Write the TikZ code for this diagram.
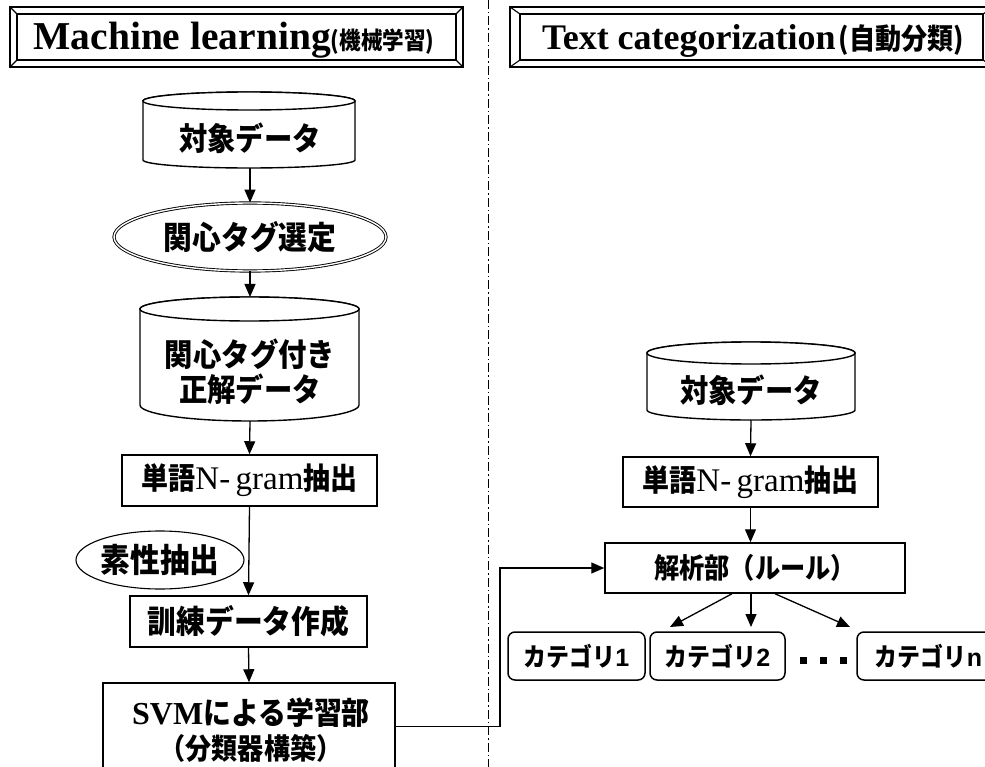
\documentclass[tikz,border=0pt]{standalone}
\usepackage{fontspec}
\setmainfont{Liberation Serif}
\newfontfamily\jp{Noto Sans CJK JP}[FakeStretch=0.9]
\newfontfamily\arialf{Liberation Sans}
\usetikzlibrary{arrows.meta,shapes.geometric}
\newcommand{\JPf}[1]{\jp\bfseries\fontsize{#1}{#1}\selectfont}
\newcommand{\RMf}[1]{\rmfamily\fontsize{#1}{#1}\selectfont}
\newcommand{\drawcyl}[6]{%
  \pgfmathsetmacro\cyX{(#1+#2)/2}\pgfmathsetmacro\cyR{(#2-#1)/2}%
  \draw[cylline] (#1,#3) -- (#1,#5) arc[start angle=180,end angle=0,x radius=\cyR,y radius=#6] -- (#2,#3) arc[start angle=0,end angle=-180,x radius=\cyR,y radius=#4] -- cycle;
  \draw[cylline] (\cyX,#3) ellipse[x radius=\cyR,y radius=#4];
}
\begin{document}
\begin{tikzpicture}[x=1pt,y=-1pt,
  hdr/.style={line width=1.1pt},
  cylline/.style={line width=1.4pt,fill=white},
  box/.style={draw,line width=1.5pt,fill=white,inner sep=0pt,align=center},
  rbox/.style={box,rounded corners=7pt},
  txt/.style={inner sep=0pt,align=center},
  arr/.style={line width=1.3pt,-{Triangle[length=13pt,width=11pt]}},
  dashdot/.style={line width=0.9pt,dash pattern=on 9pt off 3pt on 1.5pt off 3pt}]
\useasboundingbox (0,0) rectangle (985,767);
\clip (0,0) rectangle (985,767);

% separator
\draw[dashdot] (488,0) -- (488,767);

% headers
\draw[hdr] (10,7) rectangle (463,67);
\draw[hdr] (17,14) rectangle (456,60);
\draw[hdr] (10,7)--(17,14) (463,7)--(456,14) (10,67)--(17,60) (463,67)--(456,60);
\node[txt,anchor=base] (h1) at (234,50) {{\bfseries\RMf{39.5}Machine learning}{\JPf{24}(機械学習)}};

\draw[hdr] (510,7) rectangle (994,67);
\draw[hdr] (520,14) rectangle (983,60);
\draw[hdr] (510,7)--(520,14) (994,7)--(983,14) (510,67)--(520,60) (994,67)--(983,60);
\node[txt,anchor=base] (h2) at (753,50) {{\bfseries\RMf{36}Text categorization}{\JPf{29}\hspace{3pt}(自動分類)}};

% ---------- left column ----------
\drawcyl{143}{355}{101}{9}{160}{8}
\node[txt] (c1) at (250,138) {\JPf{31.5}対象データ};
\coordinate (c1bot) at (250,168);

\node[ellipse,draw,double,double distance=1.4pt,line width=0.9pt,minimum width=272pt,minimum height=68pt,inner sep=0pt] (e1) at (250,237) {\JPf{32}関心タグ選定};

\drawcyl{140}{359}{309}{12}{405}{16}
\node[txt] (c2) at (250,372) {\JPf{31.5}関心タグ付き\\[3pt]\JPf{31.5}正解データ};
\coordinate (c2top) at (250,297);
\coordinate (c2bot) at (250,421);

\node[box,minimum width=255pt,minimum height=51pt] (b1) at (249.5,480.5) {{\JPf{30}単語}{\RMf{33}N-\,gram}{\JPf{30}抽出}};

\node[ellipse,draw,line width=1.1pt,minimum width=168pt,minimum height=58pt,inner sep=0pt] (e2) at (160,560) {\JPf{33}素性抽出};

\node[box,minimum width=237pt,minimum height=51pt] (b2) at (248.5,621.5) {\JPf{32}訓練データ作成};

\node[box,minimum width=292pt,minimum height=87pt] (svm) at (249,726.5) {};
\node[txt] (svmt1) at (251,713) {{\bfseries\RMf{32}SVM}{\JPf{31}による学習部}};
\node[txt] (svmt2) at (251,748) {\JPf{29}（分類器構築）};

\draw[arr] (c1bot) -- (e1.north);
\draw[arr] (e1.south) -- (c2top);
\draw[arr] (c2bot) -- (b1.north);
\draw[arr] (b1.south) -- (b2.north);
\draw[arr] (b2.south) -- (svm.north);

% ---------- right column ----------
\drawcyl{647}{855}{353}{11}{410}{10}
\node[txt] (c3) at (751,390) {\JPf{31.5}対象データ};
\coordinate (c3bot) at (751,420);

\node[box,minimum width=255pt,minimum height=50pt] (b3) at (750.5,482) {{\JPf{30}単語}{\RMf{33}N-\,gram}{\JPf{30}抽出}};

\node[box,minimum width=300pt,minimum height=50pt] (kai) at (755,568) {\JPf{28}解析部（ルール）};

\node[rbox,minimum width=137pt,minimum height=48pt] (cat1) at (576.5,656) {{\JPf{25.5}カテゴリ}{\arialf\bfseries\fontsize{25}{25}\selectfont 1}};
\node[rbox,minimum width=135pt,minimum height=48pt] (cat2) at (717.5,656) {{\JPf{25.5}カテゴリ}{\arialf\bfseries\fontsize{25}{25}\selectfont 2}};
\node[rbox,minimum width=143pt,minimum height=48pt] (catn) at (928.5,656) {{\JPf{25.5}カテゴリ}{\arialf\bfseries\fontsize{25}{25}\selectfont n}};

\fill (800,657) rectangle (807,664);
\fill (820,657) rectangle (827,664);
\fill (840,657) rectangle (847,664);

\draw[arr] (c3bot) -- (b3.north);
\draw[arr] (b3.south) -- (kai.north -| b3.south);

\coordinate (t1) at (670,627);
\coordinate (t2) at (751,627);
\coordinate (t3) at (850,627);
\draw[arr] ([xshift=-23pt]kai.south) -- (t1);
\draw[arr] ([xshift=-4pt]kai.south) -- (t2);
\draw[arr] ([xshift=20pt]kai.south) -- (t3);

% connector SVM -> analysis
\coordinate (bend) at (500,0);
\draw[arr] (svm.east) -- (svm.east -| bend) |- (kai.west);
\end{tikzpicture}
\end{document}
